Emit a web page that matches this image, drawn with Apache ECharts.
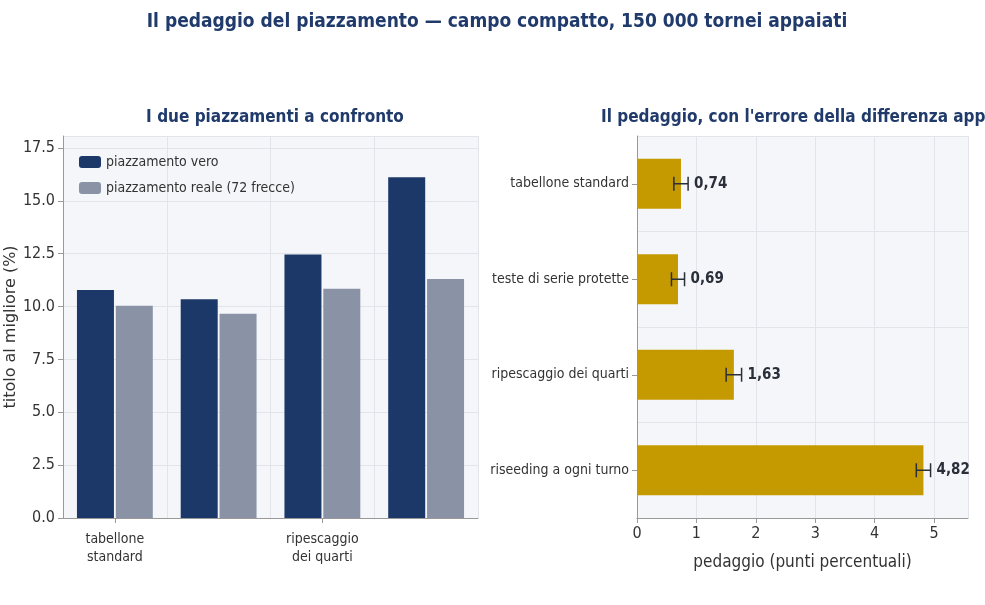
<!DOCTYPE html><html><head><meta charset="utf-8"><script src="https://cdn.jsdelivr.net/npm/echarts@6/dist/echarts.min.js"></script></head><body style="margin:0"><div id="c" style="width:985px;height:605px"></div><script>
const categories=['tabellone\nstandard','teste di serie\nprotette','ripescaggio\ndei quarti','riseeding\na ogni turno'];
const vero=[10.78,10.35,12.47,16.12];
const reale=[10.04,9.66,10.84,11.30];
const hCats=['tabellone standard','teste di serie protette','ripescaggio dei quarti','riseeding a ogni turno'];
const toll=[0.74,0.69,1.63,4.82];
const tollErr=[0.12,0.11,0.13,0.12];
const F='DejaVu Sans Condensed';
const c=echarts.init(document.getElementById('c'));
const hrev=hCats.slice().reverse(), trev=toll.slice().reverse(), erev=tollErr.slice().reverse();
c.setOption({
 textStyle:{fontFamily:F},
 title:[{text:'Il pedaggio del piazzamento — campo compatto, 150 000 tornei appaiati',left:492,top:8,textAlign:'center',textStyle:{fontFamily:F,fontSize:19,fontWeight:'bold',color:'#1f3a6b'}},
  {text:'I due piazzamenti a confronto',left:270,top:104,textAlign:'center',textStyle:{fontFamily:F,fontSize:17,fontWeight:'bold',color:'#1f3a6b'}},
  {text:"Il pedaggio, con l'errore della differenza appaiata",left:596,top:104,textStyle:{fontFamily:F,fontSize:17,fontWeight:'bold',color:'#1f3a6b'}}],
 legend:{data:['piazzamento vero','piazzamento reale (72 frecce)'],orient:'vertical',left:74,top:150,itemWidth:22,itemHeight:12,itemGap:12,textStyle:{fontFamily:F,fontSize:14,color:'#333'}},
 grid:[{left:63,top:136,width:415,height:382,backgroundColor:'#f5f6fa',show:true,borderWidth:0},
       {left:637,top:136,width:331,height:382,backgroundColor:'#f5f6fa',show:true,borderWidth:0}],
 xAxis:[{type:'category',gridIndex:0,data:categories,axisTick:{show:true,alignWithLabel:true},axisLine:{lineStyle:{color:'#999'}},axisLabel:{fontFamily:F,fontSize:14,color:'#333',lineHeight:18,margin:12},splitLine:{show:true,interval:0,lineStyle:{color:'#e2e4ea'}}},
  {type:'value',gridIndex:1,min:0,max:5.57,interval:1,axisLabel:{showMaxLabel:false,fontFamily:F,fontSize:16,color:'#333'},axisTick:{show:true},axisLine:{show:true,lineStyle:{color:'#999'}},splitLine:{lineStyle:{color:'#e2e4ea'}},name:'pedaggio (punti percentuali)',nameLocation:'middle',nameGap:36,nameTextStyle:{fontFamily:F,fontSize:17,color:'#333'}}],
 yAxis:[{type:'value',gridIndex:0,min:0,max:18.07,interval:2.5,axisLabel:{showMaxLabel:false,formatter:v=>v.toFixed(1),fontFamily:F,fontSize:16,color:'#333'},axisTick:{show:true},axisLine:{show:true,lineStyle:{color:'#999'}},splitLine:{lineStyle:{color:'#e2e4ea'}},name:'titolo al migliore (%)',nameLocation:'middle',nameGap:44,nameTextStyle:{fontFamily:'DejaVu Sans',fontSize:16,color:'#333'}},
  {type:'category',gridIndex:1,data:hrev,axisTick:{show:true,alignWithLabel:true},axisLine:{lineStyle:{color:'#999'}},axisLabel:{fontFamily:F,fontSize:14,color:'#333'},splitLine:{show:true,lineStyle:{color:'#e2e4ea'}}}],
 series:[
  {name:'piazzamento vero',type:'bar',xAxisIndex:0,yAxisIndex:0,data:vero,itemStyle:{color:'#1c3869'},barWidth:37,barGap:'5%'},
  {name:'piazzamento reale (72 frecce)',type:'bar',xAxisIndex:0,yAxisIndex:0,data:reale,itemStyle:{color:'#8a92a6'},barWidth:37},
  {type:'bar',xAxisIndex:1,yAxisIndex:1,data:trev,barWidth:50,itemStyle:{color:'#c49a00'}},
  {type:'custom',xAxisIndex:1,yAxisIndex:1,data:trev.map((v,i)=>[v,i,erev[i]]),z:5,
   renderItem:(p,api)=>{const v=api.value(0),i=api.value(1),e=api.value(2);
    const a=api.coord([v-e,i]),b=api.coord([v+e,i]);const s={stroke:'#2a2f3a',lineWidth:1.5};
    return {type:'group',children:[
     {type:'line',shape:{x1:a[0],y1:a[1],x2:b[0],y2:b[1]},style:s},
     {type:'line',shape:{x1:a[0],y1:a[1]-7,x2:a[0],y2:a[1]+7},style:s},
     {type:'line',shape:{x1:b[0],y1:b[1]-7,x2:b[0],y2:b[1]+7},style:s},
     {type:'text',x:b[0]+6,y:b[1],style:{text:v.toFixed(2).replace('.',','),fill:'#2a2f3a',font:'bold 15px "DejaVu Sans Condensed"',verticalAlign:'middle'}}]};}}
 ]});
</script></body></html>
